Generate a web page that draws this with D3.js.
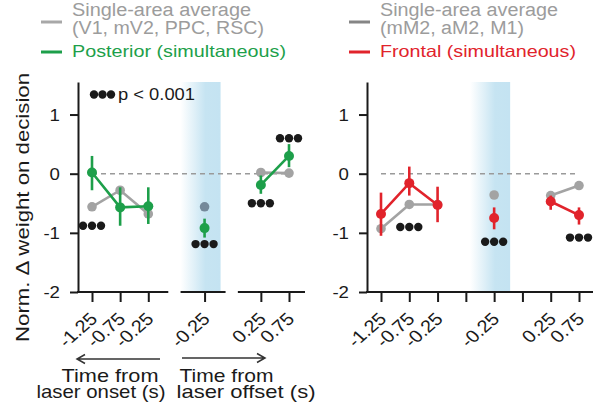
<!DOCTYPE html>
<html><head><meta charset="utf-8">
<script src="https://cdn.jsdelivr.net/npm/d3@7"></script>
<style>
body{margin:0;background:#fff}
svg{display:block}
text{font-family:"Liberation Sans",Arial,Helvetica,sans-serif}
</style>
</head><body><svg id="c" width="594" height="407"></svg>
<script>
// ---------- data ----------
const tickLabels = ["-1.25","-0.75","-0.25","-0.25","0.25","0.75"];
const slots      = [0, 1, 2, 4, 6, 7];
const groupOf    = [0, 0, 0, 1, 2, 2];
const yTicks     = [-2, -1, 0, 1];

const posteriorMean = [0.02, -0.57, -0.55, -0.92, -0.19, 0.30];
const posteriorLo   = [-0.28, -0.88, -0.85, -1.08, -0.34, 0.11];
const posteriorHi   = [0.30, -0.23, -0.23, -0.76, -0.03, 0.50];
const singlePosterior = [-0.56, -0.28, -0.68, -0.56, 0.02, 0.01];

const frontalMean = [-0.68, -0.16, -0.53, -0.75, -0.47, -0.70];
const frontalLo   = [-1.05, -0.37, -0.82, -0.94, -0.61, -0.86];
const frontalHi   = [-0.32, 0.12, -0.22, -0.57, -0.37, -0.57];
const singleFrontal = [-0.93, -0.52, -0.52, -0.36, -0.37, -0.20];

const sigSlotsLeft  = [0, 4, 6, 7];
const sigValsLeft   = [-0.88, -1.19, -0.50, 0.60];
const sigSlotsRight = [1, 4, 7];
const sigValsRight  = [-0.90, -1.15, -1.08];

const legendLeft  = ["Single-area average", "(V1, mV2, PPC, RSC)", "Posterior (simultaneous)"];
const legendRight = ["Single-area average", "(mM2, aM2, M1)", "Frontal (simultaneous)"];
const yTitle = "Norm. \u0394 weight on decision";
const pLabel = "p < 0.001";
const xTitleLeft  = ["Time from", "laser onset (s)"];
const xTitleRight = ["Time from", "laser offset (s)"];

// ---------- styling ----------
const SX = 1.13;
const GREEN = "#1d9f4a", RED = "#e1232b", GRAY = "#a3a3a3", DARK = "#1a1a1a";
const svg = d3.select("#c");

const y = d3.scaleLinear().domain([-2, 1.55]).range([292, 82]);

const defs = svg.append("defs");
const grad = defs.append("linearGradient").attr("id","shade").attr("x1","0").attr("x2","1").attr("y1","0").attr("y2","0");
grad.append("stop").attr("offset","0%").attr("stop-color","#ffffff");
grad.append("stop").attr("offset","62%").attr("stop-color","#c6e4f2");
grad.append("stop").attr("offset","100%").attr("stop-color","#c4e3f2");

// text with a fixed drawn length
function ltext(g, str, x, yy, size, len, opts={}) {
  return g.append("text").text(str)
    .attr("font-size", size)
    .attr("fill", opts.fill || DARK)
    .attr("text-anchor", opts.anchor || "start")
    .attr("textLength", len).attr("lengthAdjust", "spacingAndGlyphs")
    .attr("transform", `translate(${x},${yy})` + (opts.rot ? ` rotate(${opts.rot})` : ""));
}

function panel(cfg) {
  const g = svg.append("g");
  const x = d3.scaleLinear().domain([0, 7]).range(cfg.xr);
  const x4 = x(4);
  // shading
  g.append("rect").attr("x", x4 - 24).attr("y", y(1.55)).attr("width", 40).attr("height", y(-2) - y(1.55))
    .attr("fill", "url(#shade)");
  // zero dashed line
  g.append("line").attr("x1", x(0)).attr("x2", x(7)).attr("y1", y(0)).attr("y2", y(0))
    .attr("stroke", "#9a9a9a").attr("stroke-width", 1.4).attr("stroke-dasharray", "5,4");

  // y axis
  const ya = g.append("g").attr("transform", `translate(${cfg.ax},0)`)
    .call(d3.axisLeft(y).tickValues(yTicks).tickSize(8).tickSizeOuter(0).tickFormat(d => String(d)));
  ya.select(".domain").attr("stroke", DARK).attr("stroke-width", 2);
  ya.selectAll(".tick line").attr("stroke", DARK).attr("stroke-width", 2);
  ya.selectAll(".tick text").attr("x", 0).attr("dy", "0.36em").attr("font-size", 16.5)
    .attr("font-family", null).attr("fill", DARK)
    .attr("transform", `translate(-18,0) scale(${SX},1)`);

  // x axis
  const xa = g.append("g").attr("transform", `translate(0,${y(-2)})`)
    .call(d3.axisBottom(x).tickValues(cfg.tickVals).tickSize(10).tickSizeOuter(0)
      .tickFormat(d => { const i = slots.indexOf(d); return i >= 0 ? tickLabels[i] : ""; }));
  xa.select(".domain").remove();
  xa.selectAll(".tick line").attr("stroke", DARK).attr("stroke-width", 2);
  xa.selectAll(".tick text").attr("x", 0).attr("y", 0).attr("dy", 0).attr("font-size", 17.5)
    .attr("font-family", null).attr("fill", DARK).attr("text-anchor", "end")
    .attr("transform", `translate(6,28) scale(${SX},1) rotate(-45)`);
  // baseline segments
  cfg.segments(x).forEach(s => {
    g.append("line").attr("x1", s[0]).attr("x2", s[1]).attr("y1", y(-2)).attr("y2", y(-2))
      .attr("stroke", DARK).attr("stroke-width", 2);
  });

  // single-area average (gray)
  const pts = slots.map((s, i) => ({s, i, g: groupOf[i]}));
  const line = d3.line().x(d => x(d.s)).y(d => y(d.v));
  d3.groups(pts, d => d.g).forEach(([k, arr]) => {
    if (arr.length > 1) g.append("path").attr("d", line(arr.map(d => ({s: d.s, v: cfg.single[d.i]}))))
      .attr("fill", "none").attr("stroke", GRAY).attr("stroke-width", 2.6);
  });
  g.selectAll(null).data(pts).join("circle")
    .attr("cx", d => x(d.s)).attr("cy", d => y(cfg.single[d.i])).attr("r", 4.8)
    .attr("fill", d => (cfg.shadeGray && d.s === 4) ? "#75899a" : GRAY);

  // simultaneous
  g.selectAll(null).data(pts).join("line")
    .attr("x1", d => x(d.s)).attr("x2", d => x(d.s))
    .attr("y1", d => y(cfg.lo[d.i])).attr("y2", d => y(cfg.hi[d.i]))
    .attr("stroke", cfg.color).attr("stroke-width", 2.6);
  d3.groups(pts, d => d.g).forEach(([k, arr]) => {
    if (arr.length > 1) g.append("path").attr("d", line(arr.map(d => ({s: d.s, v: cfg.mean[d.i]}))))
      .attr("fill", "none").attr("stroke", cfg.color).attr("stroke-width", 2.6);
  });
  g.selectAll(null).data(pts).join("circle")
    .attr("cx", d => x(d.s)).attr("cy", d => y(cfg.mean[d.i])).attr("r", 5)
    .attr("fill", cfg.color);

  // significance dots
  cfg.sigSlots.forEach((s, i) => {
    [-9, 0, 9].forEach(o => g.append("circle").attr("cx", x(s) + o).attr("cy", y(cfg.sigVals[i]))
      .attr("r", 4.2).attr("fill", DARK));
  });

  // legend
  const lg = svg.append("g");
  lg.append("line").attr("x1", cfg.legX).attr("x2", cfg.legX + 21).attr("y1", 22).attr("y2", 22)
    .attr("stroke", cfg.legGray).attr("stroke-width", 3);
  lg.append("line").attr("x1", cfg.legX).attr("x2", cfg.legX + 21).attr("y1", 52).attr("y2", 52)
    .attr("stroke", cfg.color).attr("stroke-width", 3);
  ltext(lg, cfg.legend[0], cfg.legX + 31, 16.3, 18, cfg.legLen[0], {fill: "#9c9c9c"});
  ltext(lg, cfg.legend[1], cfg.legX + 31, 34, 18, cfg.legLen[1], {fill: "#9c9c9c"});
  ltext(lg, cfg.legend[2], cfg.legX + 31, 57, 16.5, cfg.legLen[2], {fill: cfg.color});
  return g;
}

panel({
  xr: [92, 289], ax: 78, tickVals: slots, color: GREEN,
  mean: posteriorMean, lo: posteriorLo, hi: posteriorHi, single: singlePosterior,
  sigSlots: sigSlotsLeft, sigVals: sigValsLeft, shadeGray: true,
  segments: x => [[77, x(2) + 20], [x(4) - 24, x(4) + 21], [x(6) - 23, x(7) + 16]],
  legX: 41, legGray: "#a8a8a8", legend: legendLeft, legLen: [179, 192, 214]
});
panel({
  xr: [381, 579], ax: 367, tickVals: d3.range(8), color: RED,
  mean: frontalMean, lo: frontalLo, hi: frontalHi, single: singleFrontal,
  sigSlots: sigSlotsRight, sigVals: sigValsRight, shadeGray: false,
  segments: x => [[366, 593]],
  legX: 349, legGray: "#858585", legend: legendRight, legLen: [178, 144, 196]
});

// p-value legend
[0, 8.5, 17].forEach(o => svg.append("circle").attr("cx", 94 + o).attr("cy", 94.5).attr("r", 4.2).attr("fill", DARK));
ltext(svg, pLabel, 118, 99.7, 16.3, 77);

// y title
ltext(svg, yTitle, 29, 207.5, 18.5, 269, {anchor: "middle", rot: -90});

// arrows + x titles
svg.append("path").attr("d", "M160,359H77M85,354.5L77,359L85,363.5")
  .attr("fill", "none").attr("stroke", "#333").attr("stroke-width", 1.5);
svg.append("path").attr("d", "M182,358H265M257,353.5L265,358L257,362.5")
  .attr("fill", "none").attr("stroke", "#333").attr("stroke-width", 1.5);
ltext(svg, xTitleLeft[0], 61.5, 381.5, 17.7, 97);
ltext(svg, xTitleLeft[1], 36.5, 398, 17.7, 129);
ltext(svg, xTitleRight[0], 179.5, 381.5, 17.7, 94);
ltext(svg, xTitleRight[1], 176.5, 398, 17.7, 139);
</script>
</body></html>
